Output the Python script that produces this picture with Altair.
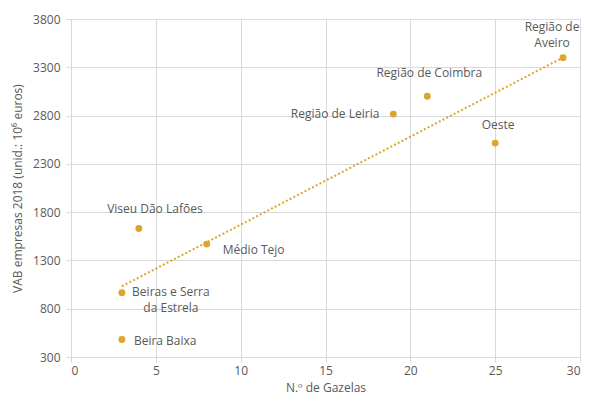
import altair as alt
import pandas as pd

regions = ["Região de Aveiro", "Região de Coimbra", "Região de Leiria", "Oeste",
           "Viseu Dão Lafões", "Médio Tejo", "Beiras e Serra da Estrela", "Beira Baixa"]
labels = ["Região de\nAveiro", "Região de Coimbra", "Região de Leiria", "Oeste",
          "Viseu Dão Lafões", "Médio Tejo", "Beiras e Serra\nda Estrela", "Beira Baixa"]
gazelas = [29, 21, 19, 25, 4, 8, 3, 3]
vab = [3400, 3000, 2815, 2515, 1631, 1469, 965, 482]
x_ticks = [0, 5, 10, 15, 20, 25, 30]
y_ticks = [300, 800, 1300, 1800, 2300, 2800, 3300, 3800]

df = pd.DataFrame({"region": regions, "label": labels, "gazelas": gazelas, "vab": vab})

GOLD = "#DBA62C"
TXT = "#595959"
GRID = "#D9D9D9"
FONT = "Open Sans"

xs = alt.Scale(domain=[0, 30], nice=False)
ys = alt.Scale(domain=[300, 3800], nice=False, zero=False)

base = alt.Chart(df)

points = base.mark_circle(size=48, color=GOLD, opacity=1).encode(
    x=alt.X("gazelas:Q", scale=xs,
            axis=alt.Axis(values=x_ticks, title="N.º de Gazelas", grid=True, format="d",
                          gridColor=GRID, domainColor=GRID, tickColor=GRID,
                          tickSize=5, labelPadding=3, labelColor=TXT,
                          labelFontSize=12, labelFont=FONT, titleFont=FONT,
                          titleFontSize=12, titleColor=TXT, titleFontWeight="normal",
                          titlePadding=6)),
    y=alt.Y("vab:Q", scale=ys,
            axis=alt.Axis(values=y_ticks, title="VAB empresas 2018 (unid.: 10⁶ euros)",
                          grid=True, format="d", gridColor=GRID, domainColor=GRID,
                          tickColor=GRID, tickSize=5, labelPadding=6, labelColor=TXT,
                          labelFontSize=12, labelFont=FONT, titleFont=FONT,
                          titleFontSize=12, titleColor=TXT, titleFontWeight="normal",
                          titlePadding=8)),
)

trend = base.transform_regression("gazelas", "vab", method="linear").mark_line(
    color=GOLD, strokeWidth=2, strokeDash=[2, 2.2]
).encode(x=alt.X("gazelas:Q", scale=xs), y=alt.Y("vab:Q", scale=ys))

placement = {
    "Região de Aveiro": ("center", -11, -31),
    "Região de Coimbra": ("center", 2, -23),
    "Região de Leiria": ("right", -14, 0),
    "Oeste": ("center", 3, -18),
    "Viseu Dão Lafões": ("center", 16, -19),
    "Médio Tejo": ("left", 16, 6),
    "Beiras e Serra da Estrela": ("center", 49, -1),
    "Beira Baixa": ("left", 12, 2),
}

text_layers = []
for name, (al, dx, dy) in placement.items():
    text_layers.append(
        base.transform_filter(alt.datum.region == name).mark_text(
            align=al, baseline="middle", dx=dx, dy=dy, fontSize=12, font=FONT,
            color=TXT, lineBreak="\n", lineHeight=16
        ).encode(x=alt.X("gazelas:Q", scale=xs), y=alt.Y("vab:Q", scale=ys),
                 text="label:N")
    )

chart = alt.layer(trend, points, *text_layers).properties(
    width=509, height=338,
    autosize=alt.AutoSizeParams(type="none"),
    padding={"left": 63, "top": 11, "right": 1, "bottom": 39},
).configure_view(stroke=None).configure(background="white")

chart.save("out.html", embed_options={"renderer": "svg", "actions": False})
